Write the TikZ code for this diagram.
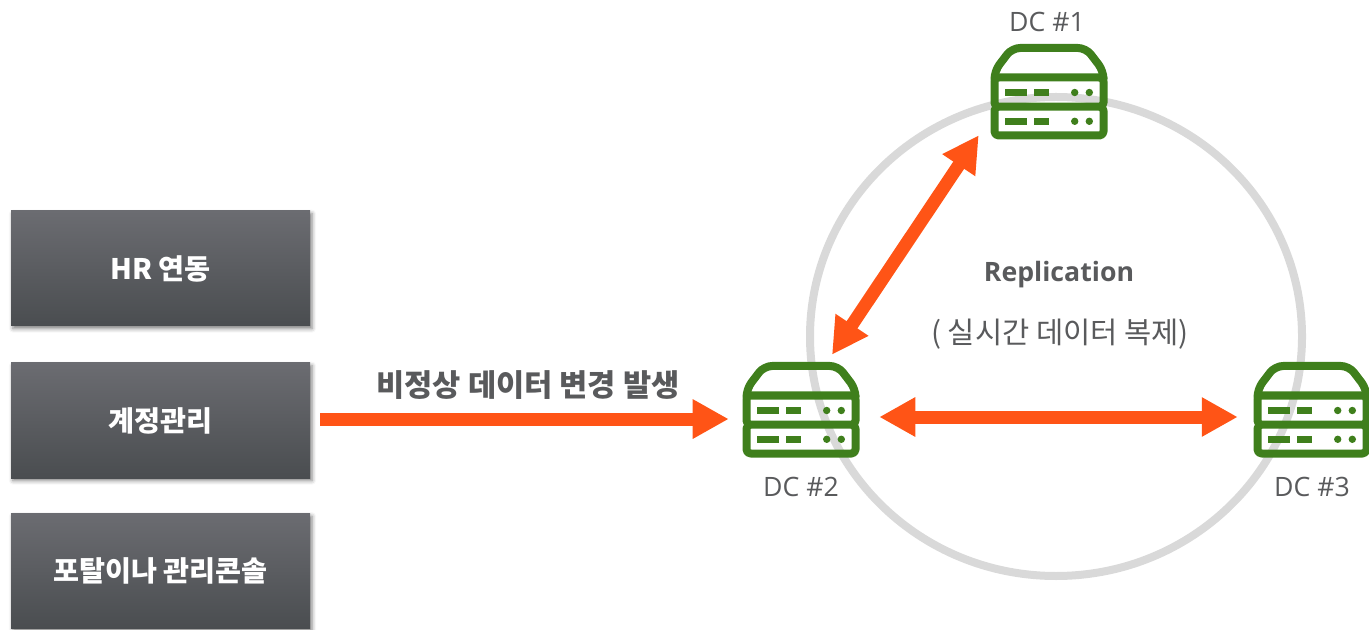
\documentclass[tikz,border=0pt]{standalone}
\usepackage{fontspec}
\setmainfont{Open Sans}
\newfontfamily\krfont[WordSpace=2]{Noto Sans CJK KR}
\newfontfamily\krplain{Noto Sans CJK KR}
\usetikzlibrary{arrows.meta,shadows.blur}
\definecolor{dcgreen}{HTML}{3F7F1C}
\definecolor{syncorange}{HTML}{FF5416}
\definecolor{ringgray}{HTML}{D9D9D9}
\definecolor{labelgray}{HTML}{595A5C}
\definecolor{boxtop}{HTML}{6B6C71}
\definecolor{boxbot}{HTML}{4A4D50}
\tikzset{
    srcbox/.style={minimum width=299*.75pt,minimum height=115*.75pt,inner sep=0pt,top color=boxtop,bottom color=boxbot,
        blur shadow={shadow xshift=1.5pt,shadow yshift=-2pt,shadow blur radius=3pt,shadow opacity=50},
        text=white,font=\krplain\fontsize{21.2pt}{24pt}\bfseries\selectfont},
    dcnode/.style={minimum width=118*.75pt,minimum height=95*.75pt,inner sep=0pt},
    dclabel/.style={text=labelgray,font=\fontsize{20pt}{22pt}\selectfont},
    syncarrow/.style={draw=syncorange,line width=13*.75pt,-{Triangle[length=36*.75pt,width=37*.75pt]}},
    syncboth/.style={syncarrow,{Triangle[length=36*.75pt,width=37*.75pt]}-{Triangle[length=36*.75pt,width=37*.75pt]}},
    pics/dcserver/.style={code={
        \draw[dcgreen,line width=8*.75pt,line join=round,rounded corners=8*.75pt]
            (-54.5,-14.5) -- (-54.5,-21) -- (-37,-44) -- (37,-44) -- (54.5,-21) -- (54.5,-14.5);
        \draw[dcgreen,line width=8*.75pt,line join=round,rounded corners=4*.75pt]
            (-54.5,-14.5) rectangle (54.5,14.7) (-54.5,14.7) rectangle (54.5,43.5);
        \foreach \rowy in {0.5,29.3} {
            \fill[dcgreen] (-44,\rowy-3.6) rectangle (-22.3,\rowy+3.6);
            \fill[dcgreen] (-14.7,\rowy-3.6) rectangle (0,\rowy+3.6);
            \fill[dcgreen] (25.7,\rowy) circle (3.7) (40.3,\rowy) circle (3.7);
        }
    }},
}
\begin{document}
\begin{tikzpicture}[x=.75pt,y=-.75pt]
    \useasboundingbox (0,0) rectangle (1369,630);
    \draw[ringgray,line width=8*.75pt] (1056,336.5) ellipse (246 and 239.5);

    \node[srcbox] (hrbox) at (160.5,268.5) {HR 연동};
    \node[srcbox] (accountbox) at (160.5,420.5) {계정관리};
    \node[srcbox] (portalbox) at (160.5,571) {포탈이나 관리콘솔};

    \node[dcnode] (dc1) at (1049,92) {};
    \node[dcnode] (dc2) at (801,410) {};
    \node[dcnode] (dc3) at (1312,410) {};
    \pic at (dc1) {dcserver};
    \pic at (dc2) {dcserver};
    \pic at (dc3) {dcserver};

    \node[dclabel] (dc1label) at (1047,22) {DC \#1};
    \node[dclabel] (dc2label) at (801,487) {DC \#2};
    \node[dclabel] (dc3label) at (1312,487) {DC \#3};

    \node[text=labelgray,font=\fontsize{20pt}{22pt}\bfseries\selectfont] (replabel) at (1059,275) {Replication};
    \node[text=labelgray,font=\krfont\fontsize{22.2pt}{26pt}\selectfont] (repsub) at (1060,334) {( 실시간 데이터 복제)};
    \node[text=labelgray,font=\krfont\fontsize{23pt}{26pt}\bfseries\selectfont] (faultlabel) at (528,385) {비정상 데이터 변경 발생};

    \draw[syncarrow,shorten <=10*.75pt,shorten >=13*.75pt] ([yshift=1.1pt]accountbox.east) -- ([yshift=1.1pt]accountbox.east -| dc2.west);
    \draw[syncboth] ([shift={(-11,-4.5)}]dc1.south west) -- ([shift={(31,-7.5)}]dc2.north);
    \draw[syncboth] ([shift={(19,7)}]dc2.east) -- ([shift={(-15,7)}]dc3.west);
\end{tikzpicture}
\end{document}
